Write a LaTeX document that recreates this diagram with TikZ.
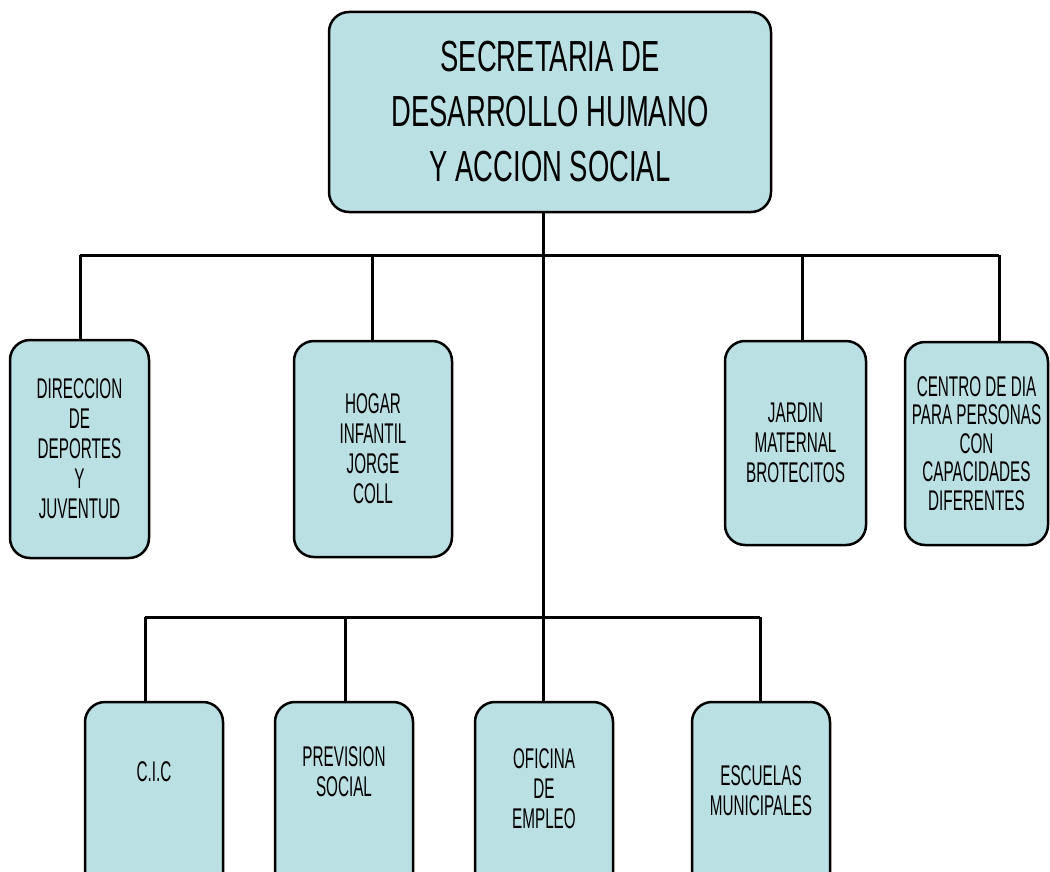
\documentclass[tikz,border=0pt]{standalone}
\usepackage{fontspec}
\setmainfont{Liberation Sans}[FakeStretch=0.535]
\newfontfamily\topfont{Liberation Sans}[FakeStretch=0.63]
\definecolor{boxfill}{RGB}{186,224,227}
\begin{document}
\begin{tikzpicture}[x=1pt,y=-1pt,
  orgbox/.style={draw=black,fill=boxfill,line width=2.5pt,rounded corners=20pt,
    rectangle,inner sep=0pt,align=center,font=\fontsize{28.5}{30}\selectfont},
  lbl/.style={align=center,inner sep=0pt,font=\fontsize{28.5}{30}\selectfont},
  conn/.style={line width=3pt}]
\useasboundingbox (0,0) rectangle (1050,872);
% boxes
\node[orgbox,minimum width=442pt,minimum height=200pt,font=\topfont\fontsize{43.5}{55}\selectfont] (top) at (550,112)
  {SECRETARIA DE\\DESARROLLO HUMANO\\Y ACCION SOCIAL};
\node[orgbox,minimum width=139pt,minimum height=218pt] (dir) at (79.5,449)
  {DIRECCION\\DE\\DEPORTES\\Y\\JUVENTUD};
\node[orgbox,minimum width=158pt,minimum height=216pt] (hog) at (373,449)
  {HOGAR\\INFANTIL\\JORGE\\COLL};
\node[orgbox,minimum width=141pt,minimum height=204pt] (jar) at (795.5,443)
  {JARDIN\\MATERNAL\\BROTECITOS};
\node[orgbox,minimum width=143pt,minimum height=203pt,font=\fontsize{28.5}{28.5}\selectfont] (cen) at (976.5,443.5)
  {CENTRO DE DIA\\PARA PERSONAS\\CON\\CAPACIDADES\\DIFERENTES};
\node[orgbox,minimum width=138pt,minimum height=190pt] (cic) at (154,797) {};
\node[orgbox,minimum width=138pt,minimum height=190pt] (pre) at (344,797) {};
\node[orgbox,minimum width=138pt,minimum height=190pt] (ofi) at (544,797) {};
\node[orgbox,minimum width=138pt,minimum height=190pt] (esc) at (761,797) {};
% bottom labels
\node[lbl] (cicT) at (154,772) {C.I.C};
\node[lbl] (preT) at (344,772) {PREVISION\\SOCIAL};
\node[lbl] (ofiT) at (544,789) {OFICINA\\DE\\EMPLEO};
\node[lbl] (escT) at (761,791) {ESCUELAS\\MUNICIPALES};
% bus points
\coordinate (b1) at (543,255);
\coordinate (b1L) at (80,255);
\coordinate (b1H) at (372,255);
\coordinate (b1J) at (802,255);
\coordinate (b1R) at (999,255);
\coordinate (b2) at (543,617);
\coordinate (b2L) at (145,617);
\coordinate (b2P) at (345,617);
\coordinate (b2R) at (760,617);
% connectors
\draw[conn] (top.south -| b1) -- (ofi.north -| b1);
\draw[conn] (b1L) -- (b1R);
\draw[conn] (b1L) -- (b1L |- dir.north);
\draw[conn] (b1H) -- (b1H |- hog.north);
\draw[conn] (b1J) -- (b1J |- jar.north);
\draw[conn] (b1R) -- (b1R |- cen.north);
\draw[conn] (b2L) -- (b2R);
\draw[conn] (b2L) -- (b2L |- cic.north);
\draw[conn] (b2P) -- (b2P |- pre.north);
\draw[conn] (b2R) -- (b2R |- esc.north);
\end{tikzpicture}
\end{document}
